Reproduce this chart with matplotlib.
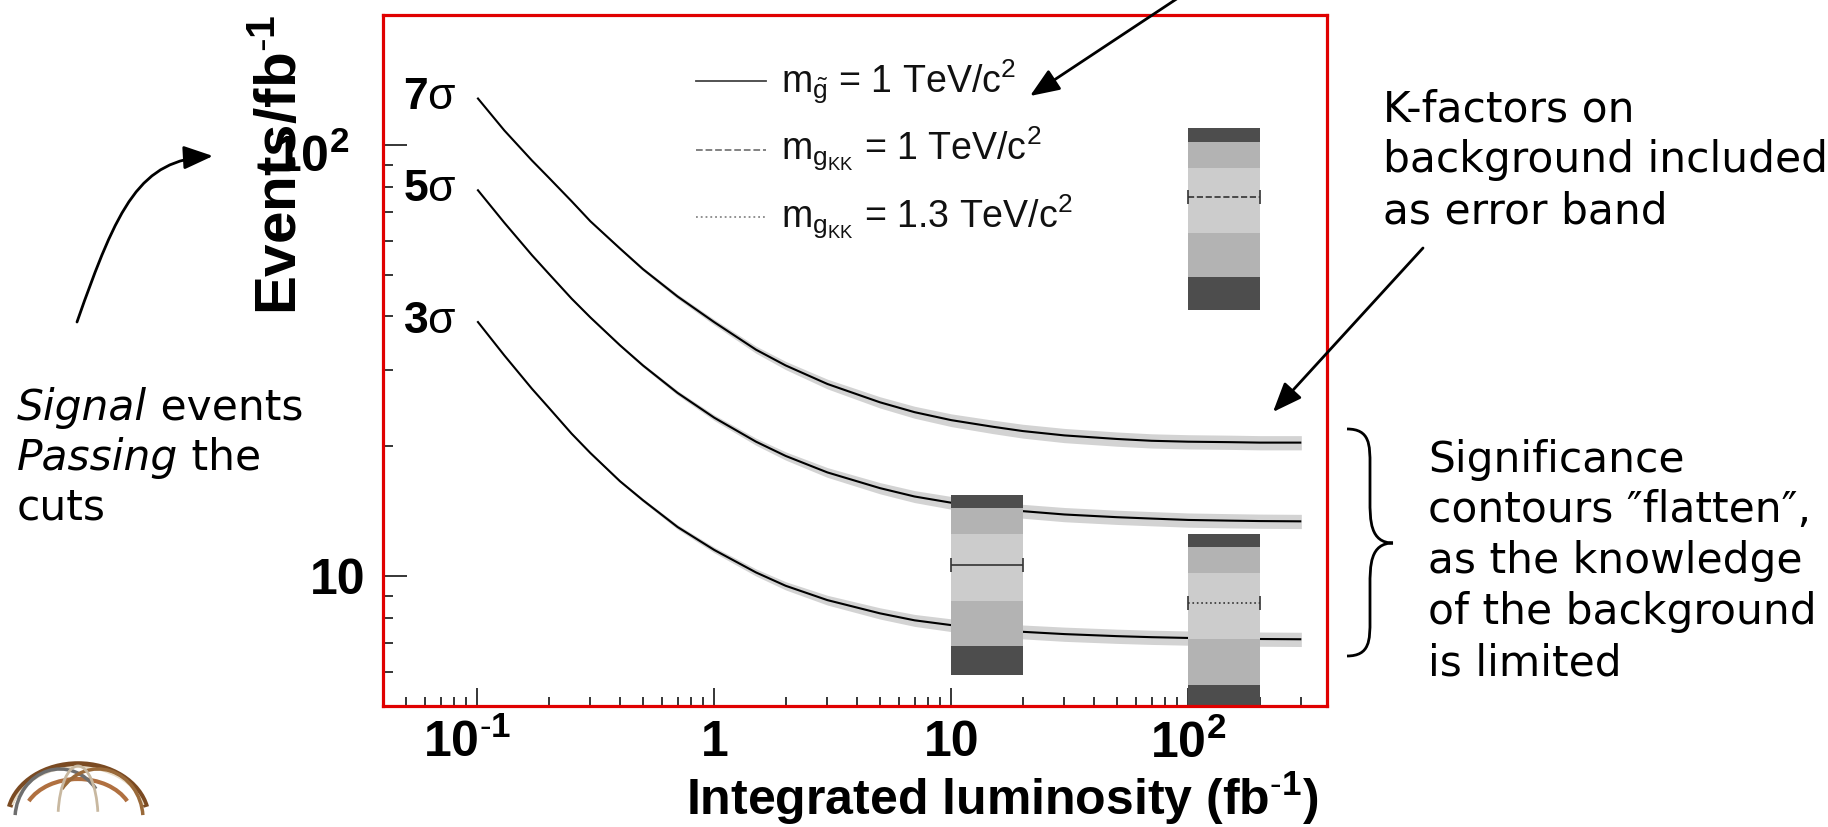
import matplotlib
matplotlib.use("Agg")
import matplotlib.pyplot as plt
from matplotlib.patches import FancyArrowPatch, PathPatch, Arc
from matplotlib.path import Path
from matplotlib.ticker import FixedLocator, NullFormatter
from matplotlib.transforms import ScaledTranslation

# ---------------------------------------------------------------- data
lumi = [0.1, 0.13, 0.17, 0.2, 0.25, 0.3, 0.4, 0.5, 0.7, 1, 1.5, 2, 3, 5, 7,
        10, 15, 20, 30, 50, 70, 100, 150, 200, 300]
events_7sigma = [128.6, 108.0, 92.0, 84.0, 74.0, 66.5, 57.5, 51.5, 44.5, 38.8,
                 33.5, 30.8, 27.9, 25.3, 24.0, 23.0, 22.2, 21.7, 21.2, 20.8,
                 20.6, 20.5, 20.45, 20.4, 20.4]
events_5sigma = [78.8, 66.0, 55.5, 50.3, 44.0, 39.8, 34.3, 30.8, 26.6, 23.3,
                 20.5, 19.0, 17.4, 16.0, 15.3, 14.8, 14.4, 14.15, 13.9, 13.7,
                 13.6, 13.5, 13.45, 13.42, 13.4]
events_3sigma = [39.0, 32.5, 27.2, 24.6, 21.4, 19.3, 16.6, 15.0, 13.0, 11.5,
                 10.2, 9.5, 8.8, 8.2, 7.9, 7.7, 7.53, 7.43, 7.34, 7.26,
                 7.22, 7.19, 7.17, 7.15, 7.14]
# relative K-factor uncertainty on the background, drawn as a band
kfactor_band = [0.0, 0.001, 0.002, 0.003, 0.004, 0.005, 0.007, 0.009, 0.012,
                0.015, 0.019, 0.022, 0.026, 0.030, 0.032, 0.034, 0.036, 0.037,
                0.038, 0.038, 0.038, 0.038, 0.038, 0.038, 0.038]
sigma_labels = ["7", "5", "3"]

# signal yields with their uncertainty bands (inner, middle, outer half-widths)
box_lumi_lo = [10, 100, 100]
box_lumi_hi = [20, 200, 200]
box_center = [10.64, 8.65, 75.5]
box_halfwidths = [[1.9, 3.75, 4.75], [1.5, 3.05, 3.9], [13.0, 26.0, 34.0]]
box_linestyles = ["-", ":", "--"]

legend_labels = [r"m$_{\tilde{\mathrm{g}}}$ = 1 TeV/c$^{2}$",
                 r"m$_{\mathrm{g}_{\mathrm{KK}}}$ = 1 TeV/c$^{2}$",
                 r"m$_{\mathrm{g}_{\mathrm{KK}}}$ = 1.3 TeV/c$^{2}$"]
legend_styles = ["-", "--", ":"]
legend_colors = ["#444444", "#777777", "#888888"]

xticks = [0.1, 1, 10, 100]
xticklabels = [r"10$^{\text{-}\mathbf{1}}$", "1", "10", r"10$^{\mathbf{2}}$"]
yticks = [10, 100]
yticklabels = ["10", r"10$^{\mathbf{2}}$"]

# ---------------------------------------------------------------- style
plt.rcParams["mathtext.fontset"] = "custom"
plt.rcParams["mathtext.rm"] = "Liberation Sans"
plt.rcParams["mathtext.it"] = "Liberation Sans:italic"
plt.rcParams["mathtext.bf"] = "Liberation Sans:bold"
plt.rcParams["mathtext.sf"] = "Liberation Sans"

W, H = 1828, 827
fig = plt.figure(figsize=(W / 100, H / 100), dpi=100)
fig.patch.set_facecolor("white")


def P(x, y):
    """pixel position (from top-left) -> figure fraction"""
    return (x / W, 1 - y / H)


ax_l, ax_r, ax_t, ax_b = 383, 1327, 15, 706
ax = fig.add_axes([ax_l / W, 1 - ax_b / H, (ax_r - ax_l) / W, (ax_b - ax_t) / H])
ax.set_xscale("log")
ax.set_yscale("log")
ax.set_xlim(0.04, 385)
ax.set_ylim(5.0, 200)

# significance contours with their K-factor bands
for ys in (events_7sigma, events_5sigma, events_3sigma):
    lo = [y * (1 - b) for y, b in zip(ys, kfactor_band)]
    hi = [y * (1 + b) for y, b in zip(ys, kfactor_band)]
    ax.fill_between(lumi, lo, hi, color="#d3d3d3", lw=0, zorder=2)
    ax.plot(lumi, ys, color="black", lw=1.5, zorder=3, solid_capstyle="butt")

for lab, ys in zip(sigma_labels, (events_7sigma, events_5sigma, events_3sigma)):
    ax.text(0.0487, ys[0], lab + r"$\mathrm{\sigma}$", fontsize=32,
            fontweight="bold", family="Liberation Sans", ha="left",
            va="center", zorder=4)

# uncertainty boxes
dark, mid, light = "#4d4d4d", "#b3b3b3", "#cccccc"
for lo, hi, c, hw, ls in zip(box_lumi_lo, box_lumi_hi, box_center,
                             box_halfwidths, box_linestyles):
    h1, h2, h3 = hw
    layers = [(c - h3, c - h2, dark), (c - h2, c - h1, mid),
              (c - h1, c + h1, light), (c + h1, c + h2, mid),
              (c + h2, c + h3, dark)]
    for y0, y1, col in layers:
        ax.fill_between([lo, hi], [y0, y0], [y1, y1], color=col, lw=0,
                        zorder=5)
    xc = (lo * hi) ** 0.5
    eb = ax.errorbar([xc], [c], xerr=[[xc - lo], [hi - xc]], fmt="none",
                     ecolor="#333333", elinewidth=1.2, capsize=5,
                     capthick=1.2, zorder=6)
    eb[2][0].set_linestyle(ls)

# legend drawn as plain lines and text
leg_line_y = [81, 150, 217]
leg_text_y = [93, 160, 228]
for lab, ly, ty, ls, col in zip(legend_labels, leg_line_y, leg_text_y,
                                legend_styles, legend_colors):
    fig.add_artist(plt.Line2D([696 / W, 766 / W], [1 - ly / H, 1 - ly / H],
                              color=col, lw=1.3, ls=ls))
    fig.text(*P(781, ty), lab, fontsize=27, family="Liberation Sans",
             ha="left", va="baseline", color="#111111")

# axes frame and ticks
for sp in ax.spines.values():
    sp.set_color("#e00000")
    sp.set_linewidth(2.3)
    sp.set_zorder(10)

ax.xaxis.set_major_locator(FixedLocator(xticks))
ax.yaxis.set_major_locator(FixedLocator(yticks))
xminor = [0.05, 0.06, 0.07, 0.08, 0.09, 0.2, 0.3, 0.4, 0.5, 0.6, 0.7, 0.8,
          0.9, 2, 3, 4, 5, 6, 7, 8, 9, 20, 30, 40, 50, 60, 70, 80, 90, 200,
          300]
yminor = [6, 7, 8, 9, 20, 30, 40, 50, 60, 70, 80, 90]
ax.xaxis.set_minor_locator(FixedLocator(xminor))
ax.yaxis.set_minor_locator(FixedLocator(yminor))
ax.xaxis.set_minor_formatter(NullFormatter())
ax.yaxis.set_minor_formatter(NullFormatter())
ax.set_xticklabels(xticklabels)
ax.set_yticklabels(yticklabels)

ax.tick_params(which="both", direction="in", top=False, right=False,
               color="black", width=1.1)
ax.tick_params(axis="x", which="major", length=13, pad=10)
ax.tick_params(axis="x", which="minor", length=6.5)
ax.tick_params(axis="y", which="major", length=17, pad=13)
ax.tick_params(axis="y", which="minor", length=7.5)
for lbl in ax.get_xticklabels() + ax.get_yticklabels():
    lbl.set_fontsize(36)
    lbl.set_fontweight("bold")
    lbl.set_family("Liberation Sans")

yt = ax.yaxis.get_major_ticks()
yt[1].tick1line.set_markersize(8)
yt[1].set_pad(24)
yt[1].label1.set_transform(yt[1].label1.get_transform()
                           + ScaledTranslation(0, -8 / 100, fig.dpi_scale_trans))
xt = ax.xaxis.get_major_ticks()
xt[0].label1.set_transform(xt[0].label1.get_transform()
                           + ScaledTranslation(-10 / 100, 0, fig.dpi_scale_trans))

# axis titles
fig.text(*P(296, 315), r"Events/fb$^{\text{-}\mathbf{1}}$", fontsize=42,
         fontweight="bold", family="Liberation Sans", rotation=90,
         rotation_mode="anchor", ha="left", va="baseline")
fig.text(*P(1318, 815), r"Integrated luminosity (fb$^{\text{-}\mathbf{1}}$)",
         fontsize=36, fontweight="bold", family="Liberation Sans",
         ha="right", va="baseline")

# annotations
note_kw = dict(fontsize=30.5, family="DejaVu Sans", ha="left", va="baseline")
for txt, y in zip(["K-factors on", "background included", "as error band"],
                  [122, 172, 223]):
    fig.text(*P(1383, y), txt, **note_kw)
for txt, y in zip(["Significance", "contours \u2033flatten\u2033,",
                   "as the knowledge", "of the background", "is limited"],
                  [472, 522, 573, 624, 675]):
    fig.text(*P(1428, y), txt, **note_kw)

renderer = fig.canvas.get_renderer()
for ital, rest, y in [("Signal", " events", 420), ("Passing", " the", 470)]:
    t = fig.text(*P(17, y), ital, style="italic", **note_kw)
    bb = t.get_window_extent(renderer)
    fig.text(bb.x1 / W, 1 - y / H, rest, **note_kw)
fig.text(*P(17, 520), "cuts", **note_kw)

arrow_kw = dict(arrowstyle="-|>,head_length=1.0,head_width=0.4",
                mutation_scale=18, lw=2, color="black",
                transform=fig.transFigure, shrinkA=0, shrinkB=0)
fig.add_artist(FancyArrowPatch(P(1178, -2), P(1030, 96), **arrow_kw))
fig.add_artist(FancyArrowPatch(P(1423, 248), P(1273, 412), **arrow_kw))
curve = Path([P(77, 322), P(118, 205), P(140, 160), P(213, 156)],
             [Path.MOVETO, Path.CURVE4, Path.CURVE4, Path.CURVE4])
fig.add_artist(FancyArrowPatch(path=curve, **arrow_kw))

# curly brace
brace = Path([P(1347, 429), P(1370, 429), P(1370, 445), P(1370, 465),
              P(1370, 500), P(1370, 520), P(1370, 543), P(1393, 543),
              P(1370, 543), P(1370, 566), P(1370, 586),
              P(1370, 620), P(1370, 640), P(1370, 656), P(1347, 656)],
             [Path.MOVETO, Path.CURVE4, Path.CURVE4, Path.CURVE4,
              Path.LINETO, Path.CURVE4, Path.CURVE4, Path.CURVE4,
              Path.CURVE4, Path.CURVE4, Path.CURVE4,
              Path.LINETO, Path.CURVE4, Path.CURVE4, Path.CURVE4])
fig.add_artist(PathPatch(brace, fill=False, lw=2, color="black",
                         transform=fig.transFigure))

# wire-frame emblem in the lower-left corner
lax = fig.add_axes([0, 0, 160 / W, 70 / H])
lax.set_xlim(0, 160)
lax.set_ylim(0, 70)
lax.axis("off")
for cx, w, h, th1, th2, col, lw in [
        (78, 140, 110, 10, 170, "#7a4a22", 4.0),
        (78, 136, 104, 12, 168, "#e8dcc8", 1.5),
        (78, 110, 80, 20, 160, "#b07040", 3.0),
        (60, 90, 100, 40, 175, "#6e6e6e", 2.5),
        (98, 90, 100, 5, 140, "#9a6a3a", 2.5),
        (78, 40, 106, 20, 160, "#c8b8a0", 2.0)]:
    lax.add_patch(Arc((cx, 8), w, h, theta1=th1, theta2=th2, color=col,
                      lw=lw))

fig.savefig("out.png", dpi=100)
